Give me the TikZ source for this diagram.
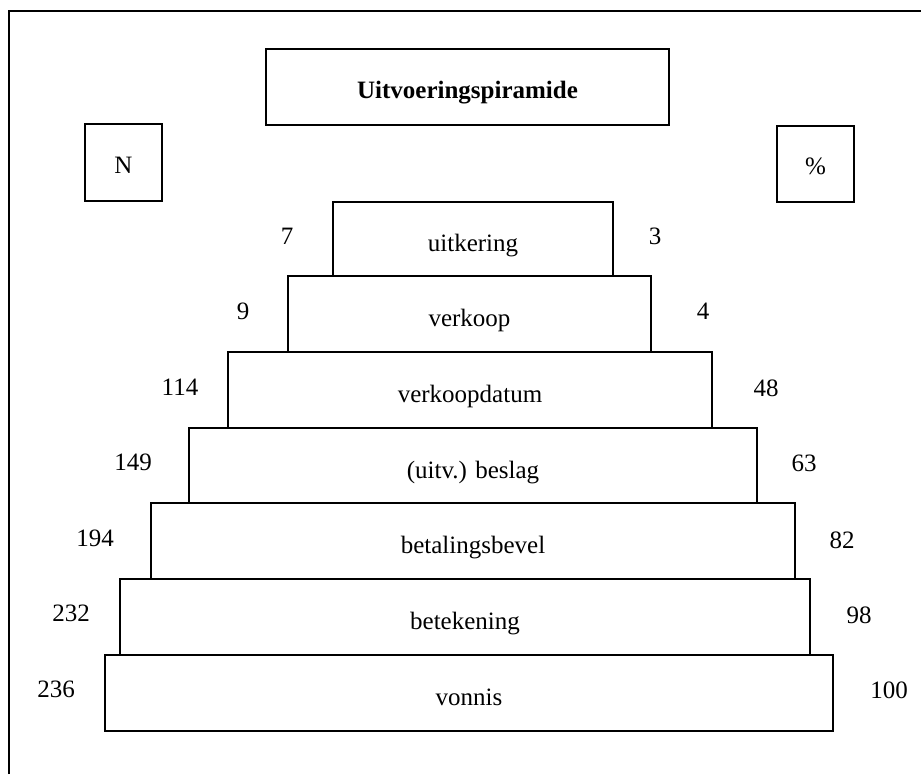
\documentclass[tikz,border=0pt]{standalone}
\usepackage{fontspec}
\setmainfont{Liberation Serif}
\begin{document}
\begin{tikzpicture}[x=1pt,y=-1pt,
  box/.style={draw=black,line width=1.9pt,inner sep=0pt,outer sep=0pt,font=\fontsize{25}{28}\selectfont},
  tier/.style={box,text height=25pt,text depth=0pt},
  num/.style={inner sep=0pt,font=\fontsize{25}{28}\selectfont}]
\useasboundingbox (0,0) rectangle (921,774);
% frame (only top and left edges visible)
\draw[line width=1.6pt] (9,774) -- (9,11) -- (921,11);
% header boxes
\node[box,minimum width=403pt,minimum height=76pt,text height=22pt,text depth=0pt,font=\fontsize{25}{28}\selectfont\bfseries] (title) at (467.5,87) {Uitvoeringspiramide};
\node[box,minimum width=77pt,minimum height=77pt,text height=21pt,text depth=0pt] (N) at (123.5,162.5) {N};
\node[box,minimum width=77pt,minimum height=76pt,text height=21pt,text depth=0pt] (pct) at (815.5,164) {\%};
% pyramid
\node[tier,minimum width=280pt,minimum height=74pt] (b1) at (473,239) {uitkering};
\node[tier,minimum width=363pt,minimum height=76pt] (b2) at (469.5,314) {verkoop};
\node[tier,minimum width=484pt,minimum height=76pt] (b3) at (470,390) {verkoopdatum};
\node[tier,minimum width=568pt,minimum height=75pt] (b4) at (473,465.5) {(uitv.) beslag};
\node[tier,minimum width=644pt,minimum height=76pt] (b5) at (473,541) {betalingsbevel};
\node[tier,minimum width=690pt,minimum height=76pt] (b6) at (465,617) {betekening};
\node[tier,minimum width=728pt,minimum height=76pt] (b7) at (469,693) {vonnis};
% left numbers (N)
\node[num] (n1) at (287,236) {7};
\node[num] (n2) at (243,311) {9};
\node[num] (n3) at (180,387) {114};
\node[num] (n4) at (133,462) {149};
\node[num] (n5) at (95,538) {194};
\node[num] (n6) at (71,613) {232};
\node[num] (n7) at (56,689) {236};
% right numbers (%)
\node[num] (p1) at (655,236) {3};
\node[num] (p2) at (703,311) {4};
\node[num] (p3) at (766,388) {48};
\node[num] (p4) at (804,463) {63};
\node[num] (p5) at (842,540) {82};
\node[num] (p6) at (859,615) {98};
\node[num] (p7) at (889,690) {100};
\end{tikzpicture}
\end{document}
